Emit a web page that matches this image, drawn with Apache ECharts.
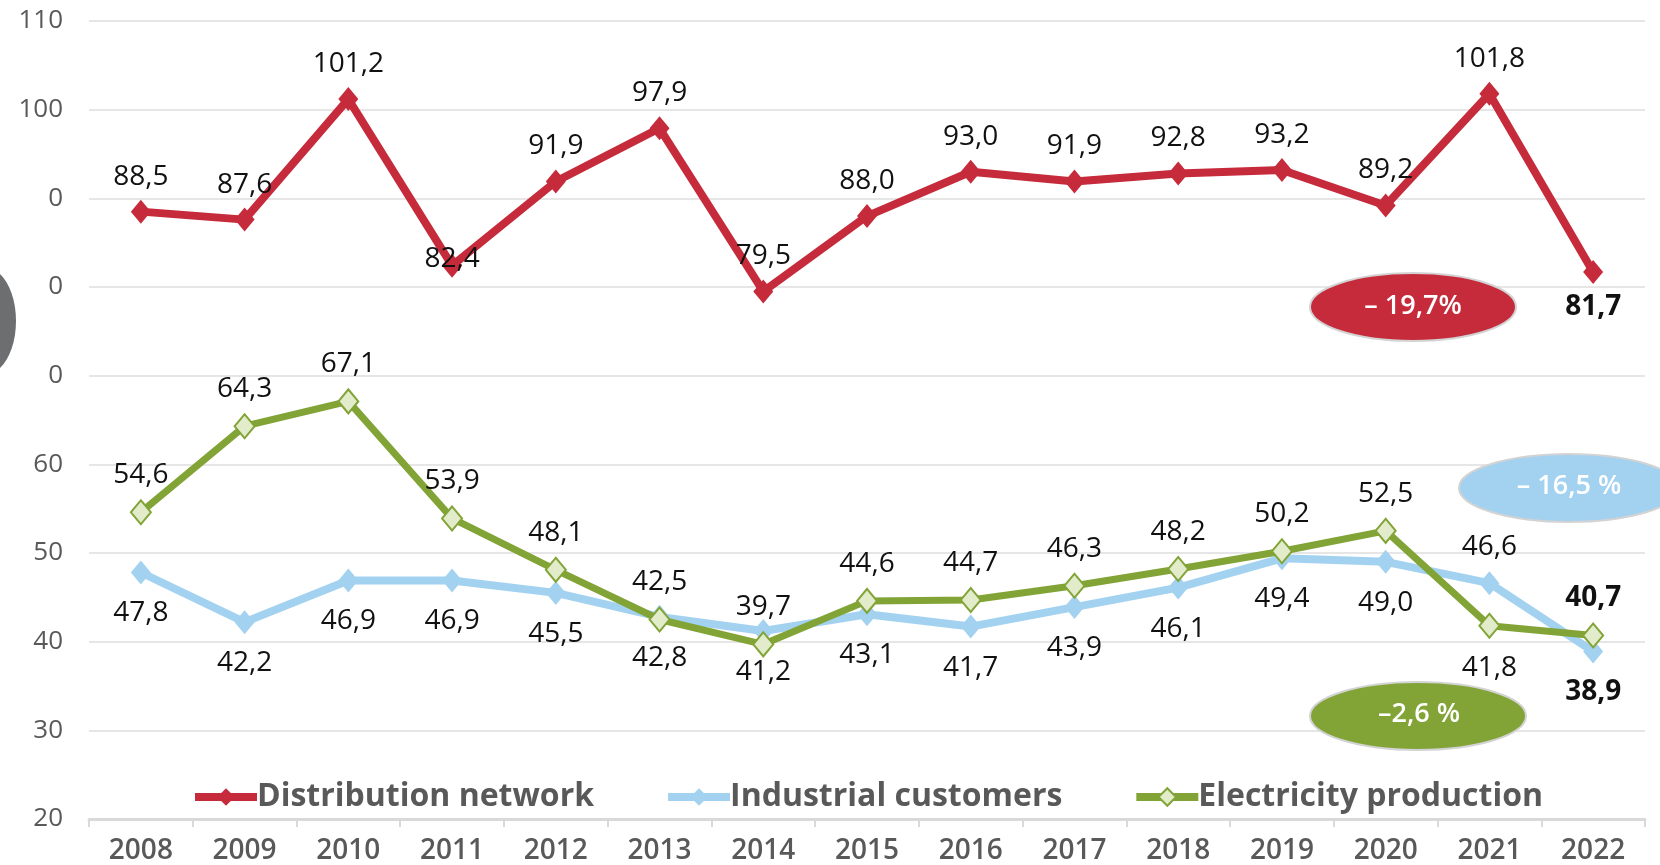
<!DOCTYPE html>
<html>
<head>
<meta charset="utf-8">
<script src="https://cdn.jsdelivr.net/npm/echarts@6/dist/echarts.min.js"></script>
<style>
html,body{margin:0;padding:0;background:#fff;}
#chart{width:1660px;height:865px;}
</style>
</head>
<body>
<div id="chart"></div>
<script>
const years = ['2008','2009','2010','2011','2012','2013','2014','2015','2016','2017','2018','2019','2020','2021','2022'];
const distribution = [88.5, 87.6, 101.2, 82.4, 91.9, 97.9, 79.5, 88.0, 93.0, 91.9, 92.8, 93.2, 89.2, 101.8, 81.7];
const industrial = [47.8, 42.2, 46.9, 46.9, 45.5, 42.8, 41.2, 43.1, 41.7, 43.9, 46.1, 49.4, 49.0, 46.6, 38.9];
const electricity = [54.6, 64.3, 67.1, 53.9, 48.1, 42.5, 39.7, 44.6, 44.7, 46.3, 48.2, 50.2, 52.5, 41.8, 40.7];
const yTickLabels = ['20','30','40','50','60','0','0','0','100','110'];
const seriesNames = ['Distribution network','Industrial customers','Electricity production'];
const changeLabels = ['– 19,7%', '– 16,5 %', '–2,6 %'];

const RED = '#C62B3B', BLUE = '#A3D2F1', GREEN = '#82A437';
const FONT = "'Open Sans', 'Noto Sans', sans-serif";
const fmt = v => v.toFixed(1).replace('.', ',');

const chart = echarts.init(document.getElementById('chart'), null, {renderer: 'canvas'});

const last = years.length - 1;
function buildData(values, cfg) {
  return values.map((v, i) => {
    const d = {value: v};
    const lab = cfg(i);
    if (lab) d.label = lab;
    return d;
  });
}

const baseLabel = {
  show: true, fontFamily: FONT, fontSize: 28, color: '#111',
  formatter: p => fmt(p.value)
};

const distData = buildData(distribution, i => {
  if (i === 3) return {position: 'inside', offset: [0, -7]};
  if (i === last) return {position: 'bottom', distance: 9, fontWeight: 'bold'};
  return null;
});
const indData = buildData(industrial, i => {
  if (i === 13) return {position: 'top', distance: 10};
  if (i === last) return {fontWeight: 'bold'};
  return null;
});
const elecData = buildData(electricity, i => {
  if (i === 13) return {position: 'bottom', distance: 15};
  if (i === last) return {fontWeight: 'bold'};
  return null;
});

const option = {
  backgroundColor: '#fff',
  animation: false,
  grid: {left: 89, right: 15, top: 21, bottom: 46},
  legend: {
    data: [
      {name: seriesNames[0], lineStyle: {width: 8}},
      {name: seriesNames[1], lineStyle: {width: 8}},
      {name: seriesNames[2], lineStyle: {width: 8}}
    ],
    left: 186, top: 776,
    itemWidth: 62, itemHeight: 22, itemGap: 70,
    textStyle: {fontFamily: FONT, fontSize: 32, fontWeight: 'bold', color: '#595959', padding: [0,0,0,-5]}
  },
  xAxis: {
    type: 'category', data: years, boundaryGap: true,
    axisLine: {lineStyle: {color: '#d9d9d9', width: 3}},
    axisTick: {show: true, length: 8, lineStyle: {color: '#d9d9d9', width: 2}},
    axisLabel: {fontFamily: FONT, fontSize: 28, fontWeight: 600, color: '#595959', margin: 18}
  },
  yAxis: {
    type: 'value', min: 20, max: 110, interval: 10,
    axisLine: {show: false}, axisTick: {show: false},
    splitLine: {lineStyle: {color: '#e6e6e6', width: 2}},
    axisLabel: {
      fontFamily: FONT, fontSize: 26, color: '#595959', margin: 26,
      formatter: v => yTickLabels[Math.round((v - 20) / 10)]
    }
  },
  series: [
    {
      name: seriesNames[0], type: 'line', data: distData, z: 3,
      symbol: 'diamond', symbolSize: [20, 24],
      itemStyle: {color: RED},
      lineStyle: {color: RED, width: 8},
      label: Object.assign({}, baseLabel, {position: 'top', distance: 9})
    },
    {
      name: seriesNames[1], type: 'line', data: indData, z: 2,
      symbol: 'diamond', symbolSize: [20, 24],
      itemStyle: {color: BLUE},
      lineStyle: {color: BLUE, width: 8},
      label: Object.assign({}, baseLabel, {position: 'bottom', distance: 15})
    },
    {
      name: seriesNames[2], type: 'line', data: elecData, z: 4,
      symbol: 'diamond', symbolSize: [20, 24],
      itemStyle: {color: '#E2EBCA', borderColor: GREEN, borderWidth: 2},
      lineStyle: {color: GREEN, width: 7},
      label: Object.assign({}, baseLabel, {position: 'top', distance: 10})
    }
  ],
  graphic: [
    {type: 'ellipse', shape: {cx: -14, cy: 321, rx: 30, ry: 53}, style: {fill: '#6d6e70'}, z: 1},
    {type: 'ellipse', shape: {cx: 1413, cy: 307, rx: 103, ry: 34}, style: {fill: RED, stroke: '#d3d3d3', lineWidth: 2}, z: 10},
    {type: 'text', x: 1413, y: 306, style: {text: changeLabels[0], fill: '#fff', font: "600 27px 'Open Sans'", textAlign: 'center', textVerticalAlign: 'middle'}, z: 11},
    {type: 'ellipse', shape: {cx: 1569, cy: 488, rx: 110, ry: 34}, style: {fill: BLUE, stroke: '#d3d3d3', lineWidth: 2}, z: 10},
    {type: 'text', x: 1569, y: 486, style: {text: changeLabels[1], fill: '#fff', font: "600 27px 'Open Sans'", textAlign: 'center', textVerticalAlign: 'middle'}, z: 11},
    {type: 'ellipse', shape: {cx: 1418, cy: 716, rx: 108, ry: 34}, style: {fill: GREEN, stroke: '#d3d3d3', lineWidth: 2}, z: 10},
    {type: 'text', x: 1419, y: 714, style: {text: changeLabels[2], fill: '#fff', font: "600 27px 'Open Sans'", textAlign: 'center', textVerticalAlign: 'middle'}, z: 11}
  ]
};
chart.setOption(option);
</script>
</body>
</html>
